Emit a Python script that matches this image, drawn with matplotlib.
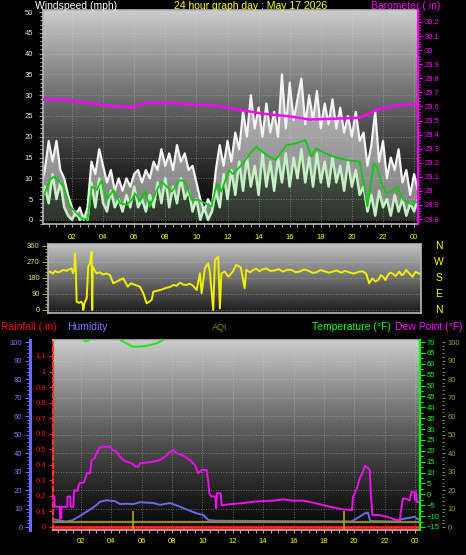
import numpy as np
import matplotlib
matplotlib.use("Agg")
import matplotlib.pyplot as plt
from matplotlib.ticker import MultipleLocator, FixedLocator
import matplotlib.transforms as mtransforms

plt.rcParams['font.family'] = ['Liberation Sans', 'DejaVu Sans']

W, H = 466, 555

# ---------------- data ----------------
# wind speed / gust, sampled every 15 minutes
hours = np.arange(98) * 0.25
gust = [8, 12, 19, 14, 19, 12, 10, 6,
        3, 1, 3, 0, 3, 14, 11, 17,
        13, 9, 12, 7, 10, 7, 10, 8,
        11, 12, 9, 12, 10, 14, 12, 17,
        13, 16, 12, 18, 14, 16, 12, 13,
        9, 5, 2, 5, 3, 12, 18, 13,
        19, 14, 21, 17, 26, 20, 30, 22,
        27, 20, 28, 21, 26, 20, 35, 22,
        33, 24, 29, 34, 23, 30, 24, 31,
        22, 28, 23, 29, 22, 27, 21, 25,
        20, 26, 19, 21, 13, 18, 26, 14,
        19, 10, 15, 12, 17, 9, 12, 6,
        11, 7]
wind = [3, 8, 4, 11, 5, 9, 3, 1,
        0, 2, 0, 1, 0, 9, 3, 10,
        4, 2, 7, 3, 5, 2, 6, 3,
        8, 3, 5, 2, 6, 3, 9, 4,
        10, 3, 8, 4, 10, 5, 7, 2,
        5, 0, 3, 0, 2, 7, 3, 11,
        5, 12, 6, 14, 7, 15, 8, 13,
        6, 16, 8, 14, 7, 15, 9, 16,
        8, 15, 10, 17, 9, 15, 8, 16,
        9, 14, 8, 15, 9, 13, 7, 14,
        8, 12, 6, 8, 2, 6, 1, 7,
        3, 5, 1, 6, 2, 5, 1, 4,
        2, 5]

avg_t = [0.16, 0.59, 0.8, 1.12, 1.44, 1.87, 2.3, 2.62, 2.99, 3.27, 3.59, 3.91, 4.23, 4.66,
         5.09, 5.52, 5.84, 6.05, 6.37, 6.7, 7.0, 7.45, 7.77, 8.09, 8.41, 8.95, 9.27, 9.7,
         10.13, 10.55, 10.98, 11.3, 11.6, 12.1, 12.35, 13.0, 13.45, 13.85, 14.5, 15.1, 15.8,
         16.4, 17.0, 17.4, 17.7, 18.1, 18.8, 19.7, 20.5, 20.8, 21.0, 21.4, 21.6, 21.9, 22.2,
         22.7, 22.9, 23.3, 23.9, 24.1, 24.25]
avg_v = [5.6, 9.6, 10.4, 9.6, 8.0, 3.2, 1.6, 0.4, 0.0, 8.0, 7.2, 9.6, 4.8, 7.2,
         4.0, 3.6, 4.8, 6.4, 4.4, 6.8, 3.2, 7.2, 9.2, 8.0, 6.8, 9.6, 9.2, 4.8,
         4.8, 4.0, 3.2, 8.8, 6.8, 12.0, 11.0, 13.6, 16.0, 17.6, 15.6, 14.4, 18.0,
         18.4, 19.2, 15.2, 17.2, 16.4, 15.2, 14.4, 14.0, 8.0, 3.2, 13.6, 12.8, 8.8, 6.4,
         7.2, 8.0, 4.8, 3.6, 4.4, 4.0]

baro_t = [0.14, 1.63, 2.92, 4.64, 5.92, 6.78, 8.71, 9.99, 11.28, 12.35, 14.3, 16.02,
          17.3, 18.6, 20.5, 21.6, 22.9, 24.25]
baro_v = [29.65, 29.648, 29.626, 29.602, 29.595, 29.626, 29.624, 29.612, 29.607, 29.584,
          29.548, 29.529, 29.507, 29.512, 29.519, 29.576, 29.607, 29.619]

dir_t = [0.15, 0.27, 0.45, 0.6, 0.75, 0.9, 1.1, 1.35, 1.67, 1.75, 1.85, 1.88, 1.95, 1.99,
         2.15, 2.3, 2.38, 2.42, 2.5, 2.64, 2.74, 2.85, 2.96, 3.0, 3.03, 3.15, 3.28, 3.5,
         3.7, 3.9, 4.14, 4.36, 4.7, 5.0, 5.3, 5.5, 5.8, 6.08, 6.3, 6.52, 6.84, 6.95, 7.38,
         7.6, 7.8, 8.0, 8.24, 8.45, 8.67, 8.9, 9.1, 9.3, 9.53, 9.75, 9.96, 10.07, 10.28,
         10.5, 10.6, 10.82, 10.93, 11.14, 11.25, 11.35, 11.57, 11.8, 12.09, 12.3, 12.6,
         12.85, 12.95, 13.2, 13.4, 13.6, 13.8, 14.0, 14.25, 14.5, 14.8, 15.05, 15.33, 15.6,
         15.9, 16.15, 16.4, 16.7, 17.0, 17.25, 17.5, 17.75, 18.0, 18.3, 18.55, 18.8, 19.1,
         19.35, 19.6, 19.9, 20.2, 20.45, 20.7, 20.9, 21.1, 21.3, 21.5, 21.65, 21.8, 21.95,
         22.1, 22.25, 22.4, 22.6, 22.85, 23.0, 23.1, 23.3, 23.5, 23.7, 23.9, 24.1, 24.25]
dir_v = [210, 216, 205, 220, 212, 214, 225, 221, 234, 206, 230, 319, 200, 47,
         40, 47, 30, 0, 40, 66, 244, 262, 328, 0, 244, 225, 206, 212,
         200, 205, 197, 150, 165, 178, 131, 150, 140, 131, 94, 37, 56, 103, 112,
         118, 125, 128, 141, 136, 154, 142, 141, 148, 135, 112, 206, 94, 234,
         262, 216, 0, 281, 300, 9, 206, 216, 187, 216, 253, 240,
         122, 225, 212, 225, 232, 218, 228, 234, 220, 222, 230, 216, 226,
         225, 212, 216, 228, 220, 208, 212, 224, 218, 210, 216, 222, 210,
         220, 212, 204, 214, 218, 206, 150, 178, 160, 170, 196, 187, 168,
         195, 210, 206, 190, 216, 196, 200, 225, 205, 187, 215, 206, 200]

dew_t = [0.18, 0.25, 0.27, 0.6, 0.62, 0.7, 0.72, 1.1, 1.12, 1.3, 1.32, 1.5, 1.55, 1.75,
         1.9, 2.2, 2.4, 2.6, 2.7, 2.9, 3.04, 3.2, 3.37, 3.91, 4.1, 4.35, 4.57, 4.79, 5.0,
         5.34, 5.56, 5.78, 5.9, 6.33, 6.77, 7.21, 7.54, 7.87, 8.08, 8.3, 8.63, 8.85, 9.18,
         9.5, 9.73, 9.95, 10.28, 10.4, 10.45, 10.6, 10.85, 10.9, 10.95, 11.2, 11.27, 12.02,
         12.7, 13.33, 13.99, 14.65, 15.31, 15.97, 16.63, 17.29, 17.94, 18.6, 19.26, 19.85,
         19.92, 20.18, 20.36, 20.58, 20.69, 20.85, 21.02, 21.1, 21.2, 21.6, 22.12, 22.77,
         23.0, 23.1, 23.21, 23.45, 23.65, 23.76, 23.98, 24.03, 24.06, 24.14, 24.3]
dew_v = [-1.0, -1.0, -5.7, -5.7, -11.0, -11.0, -5.7, -5.7, -1.0, -1.0, -5.7, -5.7, 2.0, 1.5,
         5.1, 5.5, 9.7, 9.7, 15.8, 16.6, 18.9, 21.2, 21.9, 21.9, 20.4, 19.6, 17.3, 15.8, 15.0,
         14.3, 13.0, 12.6, 14.3, 14.6, 15.0, 15.8, 17.3, 19.6, 20.4, 18.9, 18.1, 17.3, 15.8,
         13.5, 9.7, 11.2, 11.2, 5.0, 0.5, -1.0, -1.0, -6.4, 0.5, 0.5, -5.0, -4.4,
         -4.0, -3.4, -3.1, -2.9, -2.3, -2.9, -2.9, -3.8, -4.9, -6.0, -6.9, -7.2,
         -1.1, 2.8, 7.4, 10.4, 13.0, 12.5, 11.2, -1.1, -9.5, -9.5, -10.2, -11.8,
         -11.8, -6.4, -1.8, -2.1, -2.9, 1.2, 0.8, -2.9, 1.0, -3.6, -3.6]

hum_t = [0.18, 1.0, 1.4, 1.94, 2.37, 2.7, 3.04, 3.26, 3.7, 4.24, 4.57, 5.0, 5.45, 5.89,
         6.77, 7.21, 7.87, 8.52, 8.96, 9.62, 10.06, 10.39, 10.94, 19.8, 19.92, 20.36,
         20.69, 20.9, 21.05, 22.8, 23.1, 23.65, 23.98, 24.14, 24.3]
hum_v = [4.2, 3.0, 3.5, 6.0, 8.3, 10.0, 12.0, 13.7, 14.5, 14.0, 12.4, 12.6, 12.4, 13.4,
         13.0, 12.0, 13.0, 11.0, 9.5, 7.4, 6.5, 3.8, 3.4, 3.0, 3.5, 5.6,
         7.4, 7.8, 3.2, 3.0, 4.2, 5.0, 5.6, 4.4, 4.4]

temp_t = [0.16, 1.0, 1.8, 2.1, 2.27, 2.45, 2.6, 2.9, 3.5, 4.3, 4.77, 5.1, 5.4, 5.9, 6.33,
          6.99, 7.32, 7.6, 9.0, 12.0, 16.0, 20.0, 24.3]
temp_v = [76, 75, 73, 71.6, 70.4, 70.5, 71.6, 73, 74, 72.5, 70.2, 69.0, 67.9, 67.9, 68.2,
          69.4, 70.5, 72.5, 76, 80, 84, 81, 77]

rain_t = [0.16, 24.33]
rain_v = [0.0, 0.0]

aqi_t = [0.16, 24.33]
aqi_v = [2.8, 2.8]
aqi_spike_t = [5.45, 19.3]
aqi_spike_v = [8.5, 8.5]

tick_hours = [2, 4, 6, 8, 10, 12, 14, 16, 18, 20, 22, 24]
tick_labels = ['02', '04', '06', '08', '10', '12', '14', '16', '18', '20', '22', '00']

# ---------------- layout helpers ----------------
fig = plt.figure(figsize=(W / 100, H / 100), dpi=100, facecolor='black')


def rect(x0, y0, x1, y1):
    return [x0 / W, 1 - y1 / H, (x1 - x0) / W, (y1 - y0) / H]


def background(r, top, bottom, gamma):
    bg = fig.add_axes(r, zorder=0)
    f = np.linspace(1, 0, 256)[:, None]
    g = bottom + (top - bottom) * f ** gamma
    bg.imshow(g, cmap='gray', vmin=0, vmax=1, aspect='auto', extent=[0, 1, 0, 1])
    bg.axis('off')


def ftext(x, y, s, **kw):
    fig.text(x / W, 1 - y / H, s, va='center', **kw)


grid_kw = dict(color='#d8d8d8', linestyle=(0, (1, 2)), linewidth=0.6, alpha=0.55)
frame = '#b8b8b8'
yellow = '#ffff00'
fs_tick = 5.5

# ---------------- wind / barometer panel ----------------
r1 = rect(43, 10, 418, 224)
background(r1, 0.80, 0.0, 1.2)
ax_w = fig.add_axes(r1, zorder=1, facecolor='none')
ax_w.fill_between(hours, wind, gust, color='white', alpha=0.5, linewidth=0)
ax_w.fill_between(hours, 0, wind, color='#c4f2c4', alpha=0.22, linewidth=0)
ax_w.plot(hours, gust, color='#f4f4f4', linewidth=1.6)
ax_w.plot(hours, wind, color='#c4f2c4', linewidth=1.8)
ax_w.plot(avg_t, avg_v, color='#10c810', linewidth=1.3)
ax_w.set_xlim(0.135, 24.25)
ax_w.set_ylim(-1.0, 50.5)
ax_w.yaxis.set_major_locator(MultipleLocator(5))
ax_w.yaxis.set_minor_locator(MultipleLocator(1))
ax_w.xaxis.set_major_locator(FixedLocator(tick_hours))
ax_w.xaxis.set_minor_locator(MultipleLocator(0.5))
ax_w.set_xticklabels(tick_labels)
ax_w.tick_params(axis='y', which='both', colors='#a8a8a8', labelcolor='#dfe6ff',
                 labelsize=fs_tick, length=3, width=0.8, pad=4)
ax_w.tick_params(axis='y', which='minor', length=2)
ax_w.tick_params(axis='x', which='both', colors='#a8a8a8', labelcolor=yellow,
                 labelsize=fs_tick, length=2, width=0.8, pad=5)
ax_w.grid(True, which='major', **grid_kw)
for s in ax_w.spines.values():
    s.set_color(frame)
    s.set_linewidth(1.2)

ax_b = ax_w.twinx()
ax_b.plot(baro_t, baro_v, color='#ff00ff', linewidth=1.8)
ax_b.set_ylim(28.765, 30.285)
ax_b.yaxis.set_major_locator(FixedLocator([28.8, 28.9, 29.0, 29.1, 29.2, 29.3, 29.4, 29.5,
                                           29.6, 29.7, 29.8, 29.9, 30.0, 30.1, 30.2]))
ax_b.set_yticklabels(['28.8', '28.9', '29', '29.1', '29.2', '29.3', '29.4', '29.5',
                      '29.6', '29.7', '29.8', '29.9', '30', '30.1', '30.2'])
ax_b.yaxis.set_minor_locator(MultipleLocator(0.02))
ax_b.tick_params(axis='y', which='both', colors='#ff00ff', labelcolor='#ff00ff',
                 labelsize=fs_tick, length=3, width=0.8, pad=2)
ax_b.tick_params(axis='y', which='minor', length=1.5)
for k, s in ax_b.spines.items():
    s.set_visible(k == 'right')
ax_b.spines['right'].set_color('#ff00ff')
ax_b.spines['right'].set_linewidth(1.5)

ftext(35, 6, 'Windspeed (mph)', color='white', fontsize=7.5, ha='left')
ftext(251, 6, '24 hour graph day : May 17 2026', color=yellow, fontsize=7.5, ha='center')
ftext(440, 6, 'Barometer (.in)', color='#ff00ff', fontsize=7.5, ha='right')

# ---------------- wind direction panel ----------------
r2 = rect(48, 244, 421, 313)
background(r2, 0.76, 0.10, 1.0)
ax_d = fig.add_axes(r2, zorder=1, facecolor='none')
ax_d.plot(dir_t, dir_v, color='#f0f000', linewidth=1.4)
ax_d.set_xlim(0.14, 24.25)
ax_d.set_ylim(-17, 371)
ax_d.yaxis.set_major_locator(FixedLocator([0, 90, 180, 270, 360]))
ax_d.yaxis.set_minor_locator(MultipleLocator(18))
ax_d.set_xticks([])
ax_d.tick_params(axis='y', which='both', colors='#a0a030', labelcolor='#e6e660',
                 labelsize=fs_tick, length=4, width=0.8, pad=2)
ax_d.tick_params(axis='y', which='minor', length=2.5)
ax_d.grid(True, axis='y', **grid_kw)
for s in ax_d.spines.values():
    s.set_color(frame)
    s.set_linewidth(1.2)
compass_tr = mtransforms.blended_transform_factory(fig.transFigure, ax_d.transData)
for lab, deg in zip(['N', 'W', 'S', 'E', 'N'], [360, 270, 180, 90, 0]):
    ax_d.text(439 / W, deg, lab, color=yellow, fontsize=7.5, ha='center', va='center',
              transform=compass_tr, clip_on=False)

# ---------------- rain / humidity / temperature panel ----------------
r3 = rect(53, 340, 420, 530)
background(r3, 0.80, 0.04, 1.3)
ax_r = fig.add_axes(r3, zorder=1, facecolor='none')
ax_r.plot(rain_t, rain_v, color='#ff1010', linewidth=2.4)
ax_r.set_xlim(0.16, 24.33)
ax_r.set_ylim(-0.0193, 1.2026)
ax_r.yaxis.set_major_locator(FixedLocator([0, 0.1, 0.2, 0.3, 0.4, 0.5, 0.6, 0.7,
                                           0.8, 0.9, 1.0, 1.1]))
ax_r.set_yticklabels(['0', '0.1', '0.2', '0.3', '0.4', '0.5', '0.6', '0.7',
                      '0.8', '0.9', '1', '1.1'])
ax_r.xaxis.set_major_locator(FixedLocator(tick_hours))
ax_r.xaxis.set_minor_locator(MultipleLocator(0.5))
ax_r.set_xticklabels(tick_labels)
ax_r.tick_params(axis='y', which='both', colors='#ff2020', labelcolor='#ff1010',
                 labelsize=fs_tick, length=3, width=0.8, pad=2)
ax_r.tick_params(axis='x', which='both', colors='#a8a8a8', labelcolor=yellow,
                 labelsize=fs_tick, length=2, width=0.8, pad=4)
ax_r.grid(True, axis='x', **grid_kw)
for s in ax_r.spines.values():
    s.set_color(frame)
    s.set_linewidth(1.2)
ax_r.spines['left'].set_color('#ff3030')
ax_r.spines['left'].set_linestyle((0, (2, 1.5)))
ax_r.spines['left'].set_linewidth(1.6)

ax_h = ax_r.twinx()
ax_h.plot(hum_t, hum_v, color='#6a6ae8', linewidth=1.4)
ax_h.set_ylim(-1.6, 101.1)
ax_h.yaxis.set_label_position('left')
ax_h.yaxis.set_ticks_position('left')
ax_h.yaxis.set_major_locator(MultipleLocator(10))
ax_h.yaxis.set_minor_locator(MultipleLocator(2))
ax_h.tick_params(axis='y', which='both', colors='#7070ff', labelcolor='#7b7bff',
                 labelsize=fs_tick, length=3.5, width=0.8, pad=2)
ax_h.tick_params(axis='y', which='minor', length=2)
ax_h.grid(True, axis='y', **grid_kw)
for k, s in ax_h.spines.items():
    s.set_visible(k == 'left')
ax_h.spines['left'].set_position(('outward', 16.5))
ax_h.spines['left'].set_color('#6a6aff')
ax_h.spines['left'].set_linewidth(2.2)

ax_t = ax_r.twinx()
ax_t.plot(dew_t, dew_v, color='#ee10ee', linewidth=1.4)
ax_t.plot(temp_t, temp_v, color='#10ee10', linewidth=1.4)
ax_t.set_ylim(-16.38, 70.92)
ax_t.yaxis.set_major_locator(MultipleLocator(5))
ax_t.yaxis.set_minor_locator(MultipleLocator(2.5))
ax_t.tick_params(axis='y', which='both', colors='#00ff00', labelcolor='#00ff00',
                 labelsize=fs_tick, length=3.5, width=0.8, pad=1.5)
ax_t.tick_params(axis='y', which='minor', length=2)
for k, s in ax_t.spines.items():
    s.set_visible(k == 'right')
ax_t.spines['right'].set_color('#00ff00')
ax_t.spines['right'].set_linewidth(1.6)

ax_q = ax_r.twinx()
ax_q.plot(aqi_t, aqi_v, color='#8c8c28', linewidth=1.6)
ax_q.vlines(aqi_spike_t, -3, aqi_spike_v, color='#b0a020', linewidth=1.2)
ax_q.set_ylim(-1.6, 101.1)
ax_q.yaxis.set_major_locator(MultipleLocator(10))
ax_q.yaxis.set_minor_locator(MultipleLocator(2))
ax_q.tick_params(axis='y', which='both', colors='#8c8c30', labelcolor='#a09a40',
                 labelsize=fs_tick, length=2.5, width=0.8, pad=1.5)
ax_q.tick_params(axis='y', which='minor', length=1.5)
for k, s in ax_q.spines.items():
    s.set_visible(False)
ax_q.spines['right'].set_position(('outward', 16))

ftext(1, 327, 'Rainfall (.in)', color='#ff0000', fontsize=7.5, ha='left')
ftext(67, 327, 'Humidity', color='#7b7bff', fontsize=7.5, ha='left')
ftext(220, 327, 'AQI', color='#8c8c00', fontsize=6.5, ha='center')
ftext(391, 327, 'Temperature (°F)', color='#00ff00', fontsize=7.5, ha='right')
ftext(463, 327, 'Dew Point (°F)', color='#ff00ff', fontsize=7.5, ha='right')

fig.savefig('out.png', dpi=100, facecolor='black')
